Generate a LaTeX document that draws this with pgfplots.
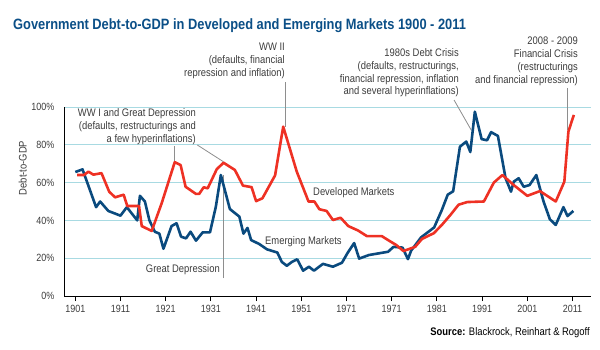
\documentclass[border=0pt]{standalone}
\usepackage{pgfplots}
\pgfplotsset{compat=1.18}
\usepackage{fontspec}
\setmainfont[FakeStretch=0.86]{Liberation Sans}
\definecolor{emblue}{HTML}{0A4A7E}
\definecolor{devred}{HTML}{EE3124}
\definecolor{titleblue}{HTML}{0B4F87}
\definecolor{gridblue}{HTML}{A8DAE2}
\definecolor{txtgray}{HTML}{3C3C3C}
\definecolor{leadgray}{HTML}{8E8E8E}
\begin{document}
\begin{tikzpicture}
\useasboundingbox (0,0) rectangle (600bp,350bp);
\begin{axis}[
  at={(64bp,54bp)}, anchor=south west,
  scale only axis, width=527bp, height=189bp,
  xmin=1898.5, xmax=2015.1, ymin=0, ymax=100,
  axis lines=left,
  axis line style={-, black, line width=1bp},
  clip=false,
  xtick={1901,1911,1921,1931,1941,1951,1961,1971,1981,1991,2001,2011},
  xticklabels={1901,1911,1921,1931,1941,1951,1971,1971,1981,1991,2001,2011},
  ytick={0,20,40,60,80,100},
  yticklabel={\pgfmathprintnumber{\tick}\%},
  /pgf/number format/assume math mode=true,
  ymajorgrids,
  grid style={gridblue, line width=0.9bp},
  x tick style={black, line width=0.8bp},
  y tick style={draw=none},
  tick align=outside,
  major tick length=5bp,
  tick label style={font=\fontsize{10.5}{12}\selectfont, text=txtgray},
  xticklabel style={yshift=-1bp},
  yticklabel style={xshift=-1bp},
]
\begin{scope}[leadgray, line width=0.8bp]
\draw (axis cs:1922.9,79.4) -- (axis cs:1922.9,71);
\draw (axis cs:1928.0,79.9) -- (axis cs:1933.8,71);
\draw (axis cs:1947.4,113) -- (axis cs:1947.4,89.6);
\draw (axis cs:1933.7,9.5) -- (axis cs:1933.7,64);
\draw (axis cs:1984.8,103.7) -- (axis cs:1988.6,87.8);
\draw (axis cs:2009.8,110) -- (axis cs:2009.8,87.8);
\end{scope}
% Emerging markets
\addplot[emblue, line width=2.6bp, line join=round] coordinates {
(1901,65.6) (1902.6,67) (1905.6,47) (1906.5,50) (1908.3,45) (1911,42.5)
(1912.4,47) (1914.7,40) (1915.3,53) (1916.4,50) (1917.4,40) (1918.6,34)
(1919.6,33) (1920.5,25) (1922.3,37) (1923.4,38.5) (1924.4,31.4) (1925.5,30.5)
(1926.5,34) (1927.7,29.3) (1929.2,33.7) (1930.8,33.7) (1932.1,47.3) (1933.2,64)
(1935.2,46) (1937.3,42) (1938.2,33) (1939.1,36) (1939.9,29.6) (1941.7,27.5)
(1943.4,24.7) (1945.7,23) (1946.7,18) (1947.8,16) (1948.9,18) (1950.1,19.4)
(1951.4,13.4) (1952.7,15.5) (1953.8,13.4) (1955.8,17) (1958,15.5) (1960,17.6)
(1961.3,23) (1962.7,28) (1963.8,19.8) (1966,21.7) (1970.2,23.4) (1971.4,26)
(1973.4,25.6) (1974.6,19.5) (1975.3,24) (1977.5,31) (1980.4,36.3) (1982.1,45.5)
(1983.4,53.6) (1984.6,55.4) (1986.1,79) (1987.5,81.7) (1988.4,76.2) (1989.4,97.5)
(1990.9,83) (1992.1,82.4) (1993,86.7) (1994.5,84.7) (1996.2,62.3) (1997.4,55.2)
(1998,60.5) (1999.1,62.3) (2000.2,57.8) (2001.5,58.7) (2003,64) (2004.6,50)
(2006,40.6) (2007.3,37.6) (2009,47) (2009.9,42.3) (2011.2,45)
};
% Developed markets
\addplot[devred, line width=2.6bp, line join=round] coordinates {
(1901.4,64) (1902.9,64) (1903.9,65.8) (1905,64.2) (1906.8,65) (1908.5,55.2)
(1909.8,52.2) (1911.7,53.6) (1912.5,47.6) (1915.1,47.6) (1915.7,37) (1917.9,34.4)
(1920.1,49) (1923,70.8) (1924.3,69.3) (1925.4,57.8) (1927.7,54) (1928.4,54)
(1929.4,57.5) (1930.3,57) (1932.3,67.1) (1933.8,70.5) (1936.3,66.7) (1938.1,58.4)
(1940,57.6) (1941,50.2) (1942.4,51.7) (1945.2,63.8) (1947,89.6) (1950,65.8)
(1952.6,50) (1953.9,50) (1955,45.9) (1956.6,45) (1958,40.2) (1959.7,41.4)
(1961.4,37) (1963.6,34.6) (1965.5,31.7) (1968.8,31.7) (1970.6,29) (1972,27)
(1973.6,23.8) (1976.2,26) (1977.7,30.2) (1980.3,33.2) (1982.1,37.6) (1984,42.9)
(1985.8,48.3) (1987.7,49.7) (1991.4,50) (1993.6,60) (1995.5,64) (1998,58.7)
(2001,53) (2003.8,55.5) (2007.3,50) (2009.2,60.5) (2010.1,87) (2011.3,95.8)
};
\end{axis}
% titles and annotations
\node[anchor=west, inner sep=0, text=titleblue, font=\fontsize{15}{17}\selectfont\bfseries] at (13bp,324bp) {Government Debt-to-GDP in Developed and Emerging Markets 1900 - 2011};
\begin{scope}[every node/.style={inner sep=0, text=txtgray, font=\fontsize{11}{13}\selectfont}]
\node[anchor=north east, align=right] at (196bp,242bp) {WW I and Great Depression\\(defaults, restructurings and\\a few hyperinflations)};
\node[anchor=north east, align=right] at (285bp,307bp) {WW II\\(defaults, financial\\repression and inflation)};
\node[anchor=north east, align=right] at (459bp,302bp) {1980s Debt Crisis\\(defaults, restructurings,\\financial repression, inflation\\and several hyperinflations)};
\node[anchor=north east, align=right] at (578bp,313bp) {2008 - 2009\\Financial Crisis\\(restructurings\\and financial repression)};
\node[anchor=east] at (220bp,80bp) {Great Depression};
\node[anchor=west] at (265bp,108bp) {Emerging Markets};
\node[anchor=west] at (313bp,157bp) {Developed Markets};
\node[anchor=south, rotate=90] at (27bp,182bp) {Debt-to-GDP};
\node[anchor=east, text=black] at (590bp,17bp) {\textbf{Source:} Blackrock, Reinhart \& Rogoff};
\end{scope}
\end{tikzpicture}
\end{document}
